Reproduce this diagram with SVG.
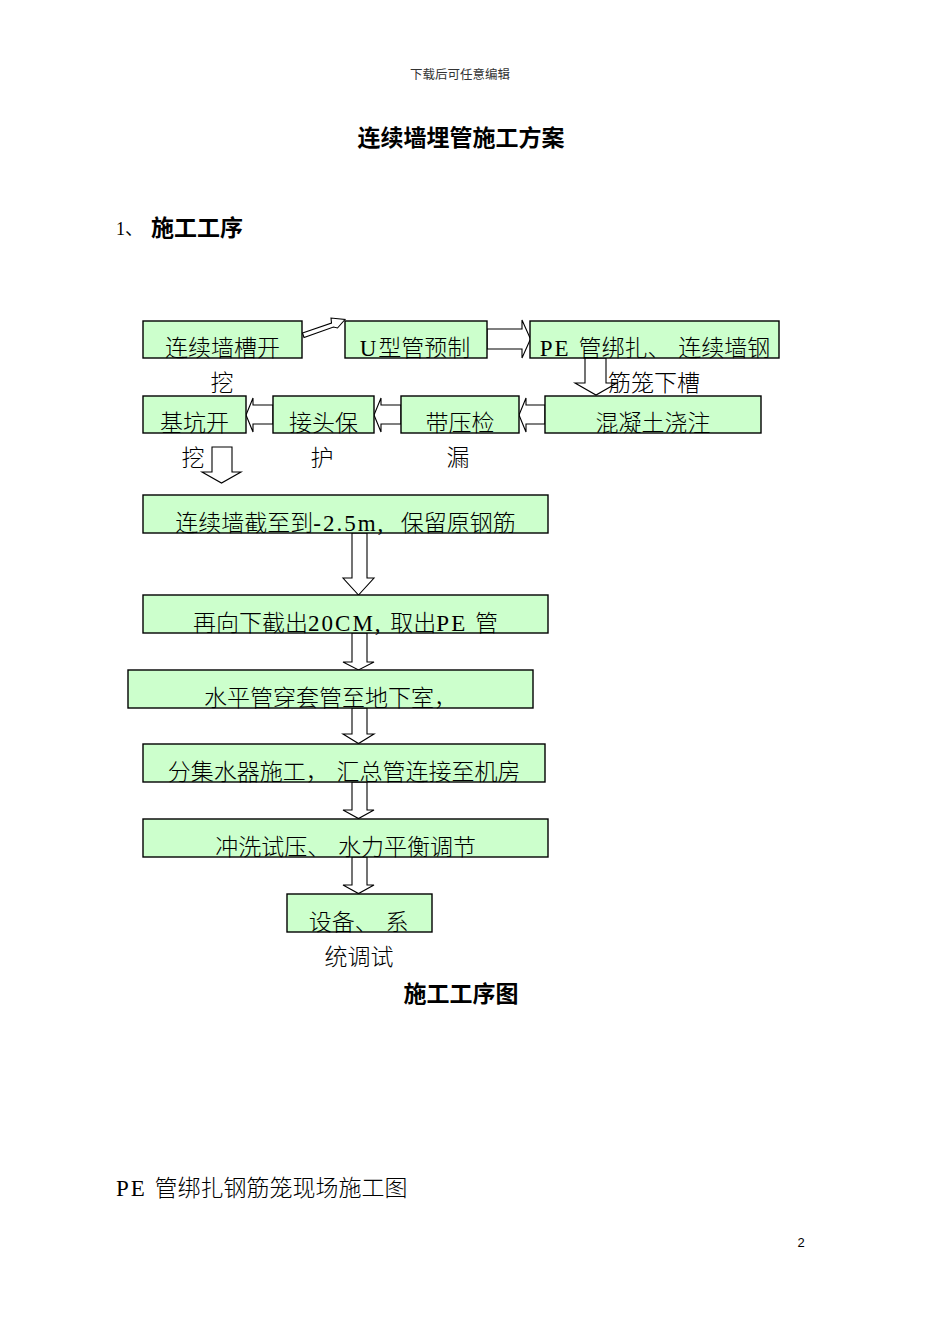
<svg xmlns="http://www.w3.org/2000/svg" width="950" height="1344" viewBox="0 0 950 1344">
<style>
.bg{fill:#ffffff}
.box{fill:#ccffcc;stroke:#000;stroke-width:1.4}
.arr{fill:#ffffff;stroke:#000;stroke-width:1.1;stroke-linejoin:miter}
.t{font-family:"Noto Sans CJK SC","Noto Sans",sans-serif;font-size:23px;font-weight:300;fill:#000;text-anchor:middle}
.l{font-family:"Liberation Serif",serif;font-size:23px;letter-spacing:2px}
.h{font-family:"Noto Sans CJK SC","Noto Sans",sans-serif;font-weight:700;font-size:23px;fill:#000}
.p{font-family:"Noto Sans CJK SC","Noto Sans",sans-serif;font-size:23px;font-weight:300;fill:#000}
</style>
<rect class="bg" x="0" y="0" width="950" height="1344"/>
<text x="460" y="79" style="font-family:'Noto Sans CJK SC',sans-serif;font-size:12.5px;fill:#333;text-anchor:middle">下载后可任意编辑</text>
<text class="h" x="461" y="146" text-anchor="middle">连续墙埋管施工方案</text>
<text x="116" y="235" style="font-family:'Liberation Serif','Noto Sans CJK SC',serif;font-size:18px;fill:#000">1、</text>
<text class="h" x="151" y="236">施工工序</text>

<g id="connectors">
<polygon class="arr" points="302.5,333 331.5,323 331,318 345,319.5 337.5,328 333.5,327 304,337.5"/>
<polygon class="arr" points="487,329 522,329 522,320 530.5,339 522,358 522,349 487,349"/>
<polygon class="arr" points="585,358 585,383 575,383 596,395 617,383 606,383 606,358"/>
<polygon class="arr" points="545,405 526,405 526,398 519,415 526,432 526,424 545,424"/>
<polygon class="arr" points="401,405 381,405 381,398 374,415 381,432 381,424 401,424"/>
<polygon class="arr" points="273,405 253,405 253,398 246,415 253,432 253,424 273,424"/>
<polygon class="arr" points="212,447 232,447 232,472 241,472 221.5,483 202,472 212,472"/>
<polygon class="arr" points="352,533 367,533 367,578 374,578 358.5,595 343,578 352,578"/>
<polygon class="arr" points="352,633 367,633 367,662 374,662 358.5,670 343,662 352,662"/>
<polygon class="arr" points="352,708 367,708 367,734 374,734 358.5,743.5 343,734 352,734"/>
<polygon class="arr" points="352,782 367,782 367,810 374,810 358.5,818.5 343,810 352,810"/>
<polygon class="arr" points="352,857 367,857 367,885 374,885 358.5,893.5 343,885 352,885"/>
</g>

<g id="n1"><rect class="box" x="143" y="321" width="159" height="37"/>
<text class="t" x="222.5" y="356">连续墙槽开</text>
<text class="t" x="222" y="391">挖</text></g>
<g id="n2"><rect class="box" x="345" y="321" width="142" height="37"/>
<text class="t" x="415" y="356"><tspan class="l">U</tspan>型管预制</text></g>
<g id="n3"><rect class="box" x="530" y="321" width="249" height="37"/>
<text class="t" x="655" y="356"><tspan class="l">PE </tspan>管绑扎、<tspan class="l"> </tspan>连续墙钢</text>
<text class="t" x="654" y="391">筋笼下槽</text></g>
<g id="n4"><rect class="box" x="143" y="396" width="103" height="37"/>
<text class="t" x="194.5" y="431">基坑开</text>
<text class="t" x="193" y="466">挖</text></g>
<g id="n5"><rect class="box" x="273" y="396" width="101" height="37"/>
<text class="t" x="323.5" y="431">接头保</text>
<text class="t" x="322" y="466">护</text></g>
<g id="n6"><rect class="box" x="401" y="396" width="118" height="37"/>
<text class="t" x="460" y="431">带压检</text>
<text class="t" x="458" y="466">漏</text></g>
<g id="n7"><rect class="box" x="545" y="396" width="216" height="37"/>
<text class="t" x="653" y="431">混凝土浇注</text></g>
<g id="n8"><rect class="box" x="143" y="495" width="405" height="38"/>
<text class="t" x="345.5" y="531">连续墙截至到<tspan class="l">-2.5m,&#160; </tspan>保留原钢筋</text></g>
<g id="n9"><rect class="box" x="143" y="595" width="405" height="38"/>
<text class="t" x="345.5" y="631">再向下截出<tspan class="l">20CM, </tspan>取出<tspan class="l">PE </tspan>管</text></g>
<g id="n10"><rect class="box" x="128" y="670" width="405" height="38"/>
<text class="t" x="330.5" y="706">水平管穿套管至地下室，</text></g>
<g id="n11"><rect class="box" x="143" y="744" width="402" height="38"/>
<text class="t" x="344" y="780">分集水器施工，<tspan class="l"> </tspan>汇总管连接至机房</text></g>
<g id="n12"><rect class="box" x="143" y="819" width="405" height="38"/>
<text class="t" x="345.5" y="855">冲洗试压、<tspan class="l"> </tspan>水力平衡调节</text></g>
<g id="n13"><rect class="box" x="287" y="894" width="145" height="38"/>
<text class="t" x="358.5" y="930">设备、<tspan class="l"> </tspan>系</text>
<text class="t" x="359" y="965">统调试</text></g>

<text class="h" x="461" y="1002" text-anchor="middle">施工工序图</text>
<text class="p" x="116" y="1196"><tspan class="l">PE </tspan>管绑扎钢筋笼现场施工图</text>
<text x="801" y="1247" style="font-family:'Liberation Sans',sans-serif;font-size:13px;fill:#000;text-anchor:middle">2</text>
</svg>
